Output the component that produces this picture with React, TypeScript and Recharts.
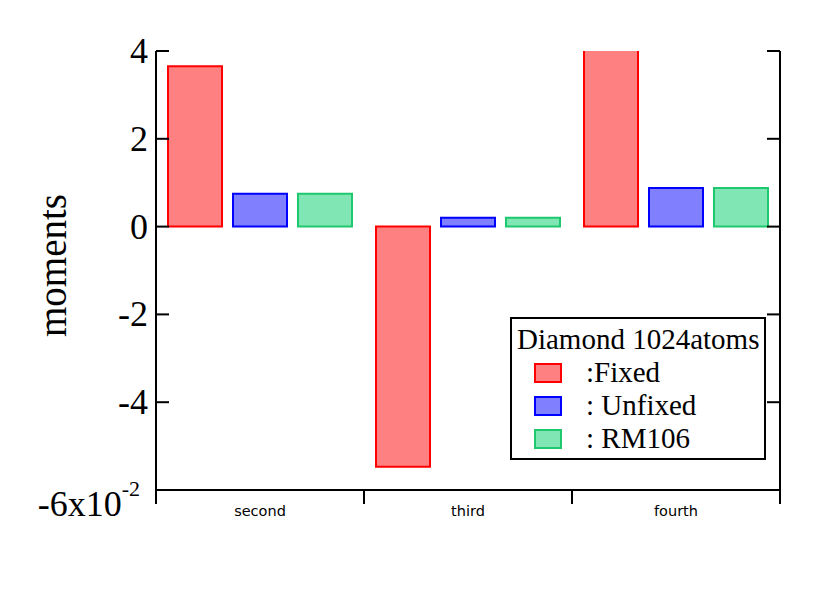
import React from 'react';
import { BarChart, Bar, XAxis, YAxis, Legend } from 'recharts';

const categories = ['second', 'third', 'fourth'];
const fixedValues = [3.65, -5.47, 4.4];
const unfixedValues = [0.75, 0.2, 0.88];
const rm106Values = [0.75, 0.2, 0.88];
const yTicks = [-6, -4, -2, 0, 2, 4];
const boundaryTicks = [0, 1, 2, 3];
const legendTitle = 'Diamond 1024atoms';

const series = [
  { key: 'fixed', label: ':Fixed', fill: '#ff8080', stroke: '#ff0000' },
  { key: 'unfixed', label: ': Unfixed', fill: '#8080ff', stroke: '#0000ff' },
  { key: 'rm106', label: ': RM106', fill: '#80e6b4', stroke: '#1ec86e' },
];

const data = categories.map((c, i) => ({
  name: c,
  pos: i + 0.5,
  fixed: fixedValues[i],
  unfixed: unfixedValues[i],
  rm106: rm106Values[i],
}));

const SERIF = '"Liberation Serif", "Times New Roman", serif';

const LeftTick = (props: any) => {
  const { x, y, payload } = props;
  const axisX = x + 8;
  const v = payload.value;
  return (
    <g>
      <line x1={axisX} x2={axisX + 13} y1={y} y2={y} stroke="#000" strokeWidth={2} />
      {v === -6 ? (
        <text x={x - 8} y={y + 26} textAnchor="end" fontFamily={SERIF} fontSize={36} fill="#000">
          -6x10
          <tspan dy={-20} fontSize={22}>-2</tspan>
        </text>
      ) : (
        <text x={x} y={y + 12} textAnchor="end" fontFamily={SERIF} fontSize={36} fill="#000">
          {v}
        </text>
      )}
    </g>
  );
};

const RightTick = (props: any) => {
  const { x, y } = props;
  return <line x1={x - 13} x2={x} y1={y} y2={y} stroke="#000" strokeWidth={2} />;
};

const EmptyTick = () => <g />;

const CatTick = (props: any) => {
  const { x, y, payload } = props;
  return (
    <text x={x} y={y + 23} textAnchor="middle" fontFamily='"DejaVu Sans", sans-serif' fontSize={14.5} fill="#000">
      {payload.value}
    </text>
  );
};

const renderLegend = () => (
  <div
    style={{
      width: 252,
      height: 139,
      border: '2px solid #000',
      background: '#fff',
      fontFamily: SERIF,
      fontSize: 29,
      color: '#000',
      boxSizing: 'content-box',
      lineHeight: '33px',
      whiteSpace: 'nowrap',
    }}
  >
    <div style={{ paddingLeft: 5, paddingTop: 4 }}>{legendTitle}</div>
    {series.map((s) => (
      <div key={s.key} style={{ display: 'flex', alignItems: 'center', height: 33 }}>
        <svg width={28} height={20} style={{ marginLeft: 22, marginRight: 24 }}>
          <rect x={1} y={1} width={26} height={18} fill={s.fill} stroke={s.stroke} strokeWidth={2} />
        </svg>
        <span>{s.label}</span>
      </div>
    ))}
  </div>
);

export default function App() {
  return (
    <div style={{ position: 'absolute', left: 0, top: 0, width: 830, height: 592, background: '#fff' }}>
      <BarChart
        width={830}
        height={592}
        data={data}
        margin={{ top: 51, right: 0, bottom: 61, left: 0 }}
        barCategoryGap={12}
        barGap={11}
      >
        <XAxis
          xAxisId="b"
          type="number"
          dataKey="pos"
          domain={[0, 3]}
          ticks={boundaryTicks}
          height={1}
          tickSize={14}
          tick={EmptyTick}
          axisLine={{ stroke: '#000', strokeWidth: 2 }}
          tickLine={{ stroke: '#000', strokeWidth: 2 }}
        />
        <XAxis
          xAxisId="cat"
          dataKey="name"
          height={40}
          axisLine={false}
          tickLine={false}
          tickSize={0}
          tick={CatTick}
        />
        <YAxis
          yAxisId="l"
          width={156}
          domain={[-6, 4]}
          ticks={yTicks}
          allowDataOverflow
          type="number"
          tickSize={0}
          tickMargin={8}
          tickLine={false}
          axisLine={{ stroke: '#000', strokeWidth: 2 }}
          tick={LeftTick}
          label={{ value: 'moments', angle: -90, position: 'center', dx: -26, dy: -5, fontFamily: SERIF, fontSize: 39, fill: '#000' }}
        />
        <YAxis
          yAxisId="r"
          orientation="right"
          width={50}
          domain={[-6, 4]}
          ticks={yTicks}
          allowDataOverflow
          type="number"
          tickSize={0}
          tickMargin={0}
          tickLine={false}
          axisLine={{ stroke: '#000', strokeWidth: 2 }}
          tick={RightTick}
        />
        <Legend
          layout="vertical"
          align="center"
          verticalAlign="middle"
          content={renderLegend}
          wrapperStyle={{ position: 'absolute', left: 510, top: 317, width: 256, height: 143 }}
        />
        {series.map((s) => (
          <Bar
            key={s.key}
            dataKey={s.key}
            xAxisId="cat"
            yAxisId="l"
            fill={s.fill}
            stroke={s.stroke}
            strokeWidth={2}
            isAnimationActive={false}
          />
        ))}
      </BarChart>
    </div>
  );
}
